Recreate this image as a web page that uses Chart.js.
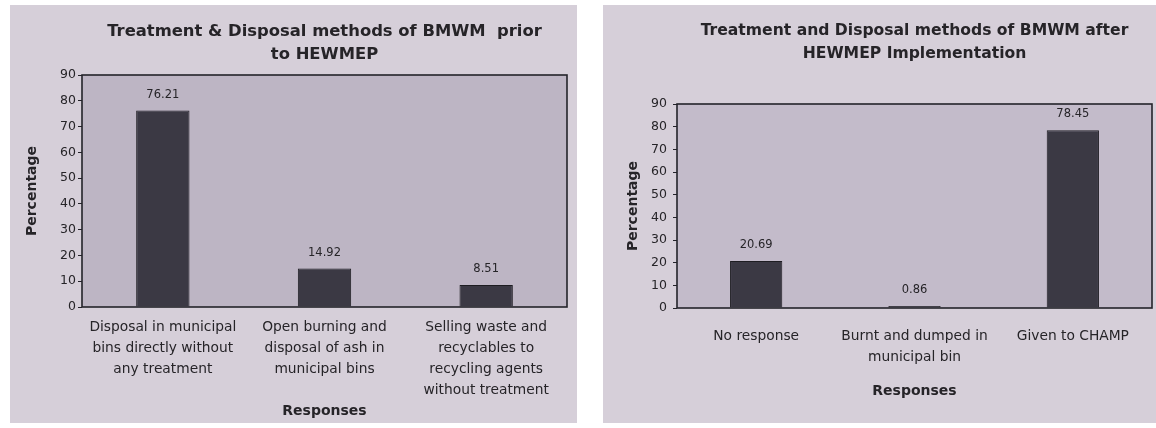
<!DOCTYPE html>
<html>
<head>
<meta charset="utf-8">
<script src="https://cdn.jsdelivr.net/npm/chart.js@4.4.1/dist/chart.umd.min.js"></script>
<style>
  html, body { margin: 0; padding: 0; background: #ffffff; }
  body { width: 1156px; height: 428px; position: relative; overflow: hidden; }
  .panel { position: absolute; background: #d6cfd9; }
  #p1 { left: 10px; top: 5px; width: 567px; height: 418px; }
  #p2 { left: 603px; top: 5px; width: 553px; height: 418px; }
</style>
</head>
<body>
<div class="panel" id="p1"><canvas id="before" width="567" height="418"></canvas></div>
<div class="panel" id="p2"><canvas id="after" width="553" height="418"></canvas></div>
<script>
// Survey responses on biomedical waste handling, before and after the programme
const beforeCategories = [
  ['Disposal in municipal', 'bins directly without', 'any treatment'],
  ['Open burning and', 'disposal of ash in', 'municipal bins'],
  ['Selling waste and', 'recyclables to', 'recycling agents', 'without treatment']
];
const beforeValues = [76.21, 14.92, 8.51];

const afterCategories = [
  'No response',
  ['Burnt and dumped in', 'municipal bin'],
  'Given to CHAMP'
];
const afterValues = [20.69, 0.86, 78.45];

const yTicks = [0, 10, 20, 30, 40, 50, 60, 70, 80, 90];

const beforeTitle = ['Treatment & Disposal methods of BMWM  prior', 'to HEWMEP'];
const afterTitle = ['Treatment and Disposal methods of BMWM after', 'HEWMEP Implementation'];

const BAR = '#3b3944';
const TEXT = '#262428';

// Shaded plot box with a dark frame
const plotBox = {
  id: 'plotBox',
  beforeDatasetsDraw(chart, args, opts) {
    const a = chart.chartArea, c = chart.ctx;
    c.save();
    c.fillStyle = opts.fill;
    c.fillRect(a.left, a.top, a.right - a.left, a.bottom - a.top);
    c.restore();
  },
  afterDatasetsDraw(chart) {
    const a = chart.chartArea, c = chart.ctx;
    c.save();
    c.strokeStyle = '#24232a';
    c.lineWidth = 1.6;
    c.strokeRect(a.left, a.top, a.right - a.left, a.bottom - a.top);
    c.restore();
  }
};

// Value printed above each bar
const barValues = {
  id: 'barValues',
  afterDatasetsDraw(chart) {
    const c = chart.ctx;
    const ds = chart.data.datasets[0];
    chart.getDatasetMeta(0).data.forEach((bar, i) => {
      c.save();
      c.font = '11.5px "DejaVu Sans", sans-serif';
      c.fillStyle = TEXT;
      c.textAlign = 'center';
      c.textBaseline = 'middle';
      c.fillText(ds.data[i].toFixed(2), bar.x, bar.y - 16);
      c.restore();
    });
  }
};

function makeChart(id, cfg) {
  return new Chart(document.getElementById(id), {
    type: 'bar',
    data: {
      labels: cfg.labels,
      datasets: [{
        data: cfg.values,
        backgroundColor: BAR,
        borderColor: '#1e1d22',
        borderWidth: 1,
        barPercentage: 0.33,
        categoryPercentage: 1
      }]
    },
    options: {
      responsive: false,
      animation: false,
      layout: { padding: { left: cfg.padLeft, right: cfg.padRight, top: 0, bottom: 0 } },
      plugins: {
        legend: { display: false },
        tooltip: { enabled: false },
        title: {
          display: true,
          fullSize: false,
          text: cfg.title,
          color: TEXT,
          font: { family: '"DejaVu Sans", sans-serif', size: cfg.titleSize, weight: 'bold', lineHeight: 23 / cfg.titleSize },
          padding: { top: cfg.titleTop, bottom: cfg.titleBottom }
        },
        plotBox: { fill: cfg.plotFill }
      },
      scales: {
        x: {
          grid: { display: false, drawTicks: false },
          border: { display: false },
          ticks: {
            color: TEXT,
            padding: cfg.xPad,
            maxRotation: 0,
            autoSkip: false,
            font: { family: '"DejaVu Sans", sans-serif', size: cfg.xSize, lineHeight: 21 / cfg.xSize }
          },
          title: {
            display: true,
            text: 'Responses',
            color: TEXT,
            font: { family: '"DejaVu Sans", sans-serif', size: 14, weight: 'bold', lineHeight: 1.2 },
            padding: { top: 0, bottom: cfg.xTitleBottom }
          },
          afterFit(s) { s.height = cfg.xHeight; }
        },
        y: {
          min: 0,
          max: 90,
          afterBuildTicks(s) { s.ticks = yTicks.map(v => ({ value: v })); },
          grid: { display: true, drawOnChartArea: false, drawTicks: true, tickLength: 4, color: '#24232a' },
          border: { display: false },
          ticks: {
            color: TEXT,
            padding: cfg.yPad,
            font: { family: '"DejaVu Sans", sans-serif', size: 12.5 }
          },
          title: {
            display: true,
            text: 'Percentage',
            color: TEXT,
            font: { family: '"DejaVu Sans", sans-serif', size: 14, weight: 'bold', lineHeight: 1.2 },
            padding: { top: 0, bottom: 0 }
          },
          afterFit(s) { s.width = cfg.yWidth; }
        }
      }
    },
    plugins: [plotBox, barValues]
  });
}

makeChart('before', {
  labels: beforeCategories,
  values: beforeValues,
  title: beforeTitle,
  titleSize: 16.4,
  titleTop: 15.5,
  titleBottom: 8.5,
  padLeft: 14,
  padRight: 10,
  yWidth: 58,
  yPad: 2,
  xPad: 10,
  xSize: 13.8,
  xHeight: 116,
  xTitleBottom: 3,
  plotFill: '#bdb5c4'
});

makeChart('after', {
  labels: afterCategories,
  values: afterValues,
  title: afterTitle,
  titleSize: 15.6,
  titleTop: 14.5,
  titleBottom: 38.5,
  padLeft: 22,
  padRight: 4,
  yWidth: 52,
  yPad: 6,
  xPad: 18,
  xSize: 13.8,
  xHeight: 115,
  xTitleBottom: 23,
  plotFill: '#c3bbca'
});
</script>
</body>
</html>
